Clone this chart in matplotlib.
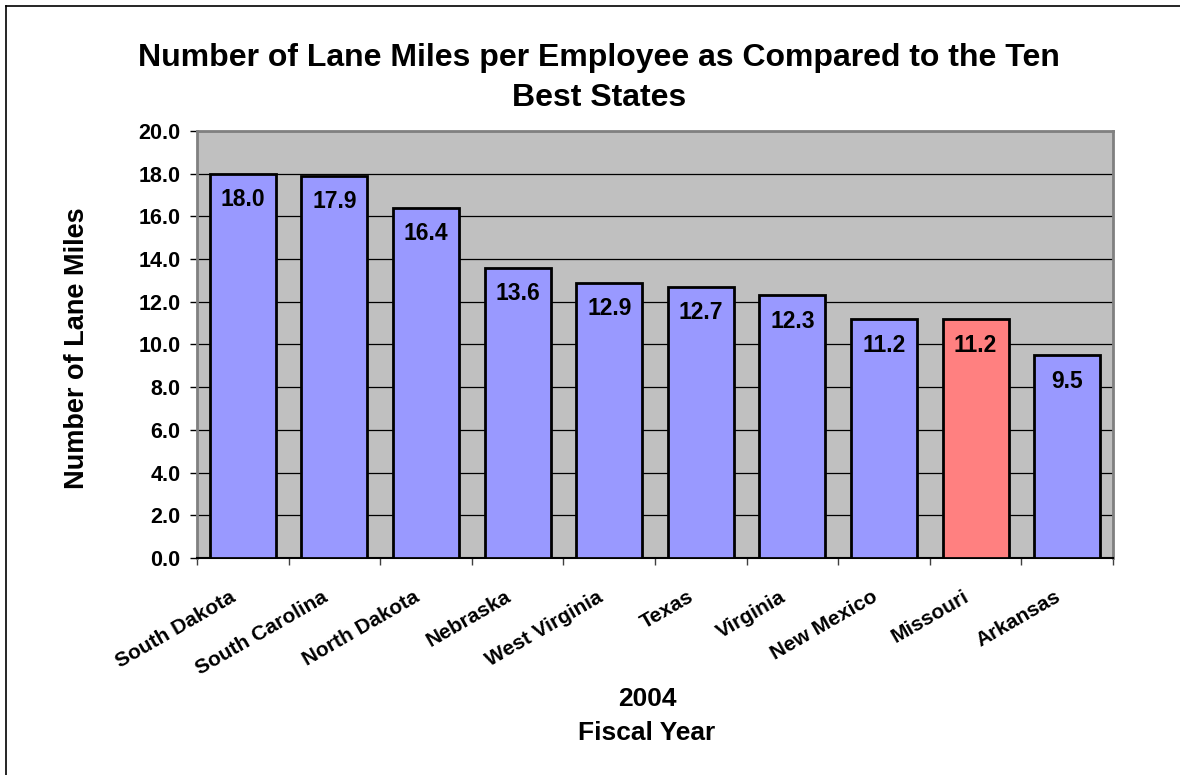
import matplotlib
matplotlib.use("Agg")
import matplotlib.pyplot as plt
from matplotlib.lines import Line2D

states = ["South Dakota", "South Carolina", "North Dakota", "Nebraska", "West Virginia",
          "Texas", "Virginia", "New Mexico", "Missouri", "Arkansas"]
miles = [18.0, 17.9, 16.4, 13.6, 12.9, 12.7, 12.3, 11.2, 11.2, 9.5]
highlight = "Missouri"
yticks = [0, 2, 4, 6, 8, 10, 12, 14, 16, 18, 20]

plt.rcParams['font.family'] = ['Liberation Sans', 'DejaVu Sans']
plt.rcParams['font.weight'] = 'bold'

W, H = 1180, 775
fig = plt.figure(figsize=(W / 100, H / 100), dpi=100)
L, R, T, B = 197, 1113, 131, 558
ax = fig.add_axes([L / W, 1 - B / H, (R - L) / W, (B - T) / H])
ax.set_facecolor('#C0C0C0')

x = list(range(len(states)))
colors = ['#FF8080' if s == highlight else '#9999FF' for s in states]
ax.bar(x, miles, width=0.72, color=colors, edgecolor='black', linewidth=2, zorder=3)
for xi, v in zip(x, miles):
    ax.annotate(f"{v:.1f}", (xi, v), xytext=(0, -23.5), textcoords='offset points',
                ha='center', va='baseline', fontsize=16.5, fontweight='bold', zorder=4)

ax.set_xlim(-0.5, len(states) - 0.5)
ax.set_ylim(0, 20)
ax.set_yticks(yticks)
ax.set_yticklabels([f"{t:.1f}" for t in yticks], fontsize=15.5, fontweight='bold')
ax.yaxis.grid(True, color='black', linewidth=0.9, zorder=1)
ax.set_axisbelow(True)
ax.tick_params(axis='y', direction='out', length=5, width=1, color='black', pad=7)

# x ticks at category boundaries
ax.set_xticks([i - 0.5 for i in range(len(states) + 1)])
ax.set_xticklabels([])
ax.tick_params(axis='x', direction='out', length=5, width=1, color='#404040')
for xi, s in zip(x, states):
    ax.annotate(s, (xi, 0), xytext=(-6, -27), textcoords='offset points',
                ha='right', va='center', rotation=30, rotation_mode='anchor',
                fontsize=15, fontweight='bold', annotation_clip=False)

for side in ['top', 'right', 'left']:
    ax.spines[side].set_color('#808080')
    ax.spines[side].set_linewidth(2)
ax.spines['bottom'].set_color('black')
ax.spines['bottom'].set_linewidth(1.5)

fig.text(77 / W, 1 - 348 / H, "Number of Lane Miles", rotation=90, ha='center', va='center',
         fontsize=19.5, fontweight='bold')

fig.text(647 / W, 1 - 699 / H, "2004", ha='center', va='center', fontsize=19, fontweight='bold')
fig.text(647 / W, 1 - 733 / H, "Fiscal Year", ha='center', va='center', fontsize=19, fontweight='bold')

fig.text(599 / W, 1 - 58 / H, "Number of Lane Miles per Employee as Compared to the Ten",
         ha='center', va='center', fontsize=23, fontweight='bold')
fig.text(599 / W, 1 - 98 / H, "Best States", ha='center', va='center', fontsize=23, fontweight='bold')

# outer frame (left and top edges)
fig.add_artist(Line2D([6 / W, 6 / W], [0, 1 - 6 / H], color='black', linewidth=1.2, transform=fig.transFigure))
fig.add_artist(Line2D([6 / W, 1], [1 - 6 / H, 1 - 6 / H], color='black', linewidth=1.2, transform=fig.transFigure))

fig.savefig("out.png", dpi=100)
